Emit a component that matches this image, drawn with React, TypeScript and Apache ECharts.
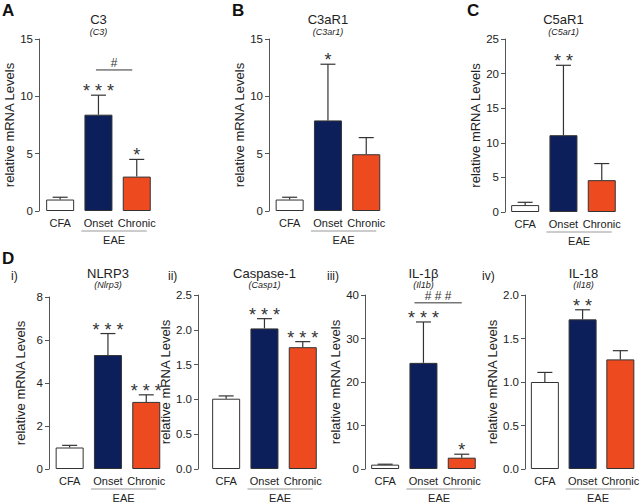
import React, { useEffect, useRef } from "react";
import * as echarts from "echarts";

// ---------- data ----------
const categories = ["CFA", "Onset", "Chronic"];
const groupLabel = "EAE";
const yAxisName = "relative mRNA Levels";

const c3Mean = [1.0, 8.4, 3.0];
const c3Upper = [1.2, 10.1, 4.5];
const c3Sig = ["", "***", "*"];
const c3Bracket = { y: 12.3, label: "#" };

const c3ar1Mean = [1.0, 7.9, 4.95];
const c3ar1Upper = [1.2, 12.8, 6.4];
const c3ar1Sig = ["", "*", ""];

const c5ar1Mean = [1.0, 11.1, 4.6];
const c5ar1Upper = [1.4, 21.2, 7.0];
const c5ar1Sig = ["", "**", ""];

const nlrp3Mean = [1.0, 5.3, 3.12];
const nlrp3Upper = [1.1, 6.3, 3.45];
const nlrp3Sig = ["", "***", "***"];

const casp1Mean = [1.01, 2.02, 1.75];
const casp1Upper = [1.05, 2.16, 1.83];
const casp1Sig = ["", "***", "***"];

const il1bMean = [1.0, 24.4, 2.6];
const il1bUpper = [1.1, 33.8, 3.4];
const il1bSig = ["", "***", "*"];
const il1bBracket = { y: 38.2, label: "###" };

const il18Mean = [1.0, 1.72, 1.26];
const il18Upper = [1.11, 1.83, 1.36];
const il18Sig = ["", "**", ""];

const panelTitles = ["C3", "C3aR1", "C5aR1", "NLRP3", "Caspase-1", "IL-1β", "IL-18"];
const panelGenes = ["(C3)", "(C3ar1)", "(C5ar1)", "(Nlrp3)", "(Casp1)", "(Il1b)", "(Il18)"];
const panelTags = ["A", "B", "C", "i)", "ii)", "iii)", "iv)"];
const yMax = [15, 15, 25, 8, 2.5, 40, 2.0];
const yInterval = [5, 5, 5, 2, 0.5, 10, 0.5];
const yDecimals = [0, 0, 0, 0, 1, 0, 1];

const panels = [
  { mean: c3Mean, upper: c3Upper, sig: c3Sig, bracket: c3Bracket },
  { mean: c3ar1Mean, upper: c3ar1Upper, sig: c3ar1Sig, bracket: null },
  { mean: c5ar1Mean, upper: c5ar1Upper, sig: c5ar1Sig, bracket: null },
  { mean: nlrp3Mean, upper: nlrp3Upper, sig: nlrp3Sig, bracket: null },
  { mean: casp1Mean, upper: casp1Upper, sig: casp1Sig, bracket: null },
  { mean: il1bMean, upper: il1bUpper, sig: il1bSig, bracket: il1bBracket },
  { mean: il18Mean, upper: il18Upper, sig: il18Sig, bracket: null },
];

// ---------- layout / style ----------
const FONT = "Liberation Sans, Arial, Helvetica, sans-serif";
const BAND = 38.3;
const BAR_W = 28;
const CAP_W = 15;
const barColors = ["#ffffff", "#0c1f5b", "#ee4a20"];
const layouts = [
  { left: 41, top: 39, height: 172, offset: 2, nameGap: 20, tagX: 0, tagY: 0, titleY: 19, geneY: 32, bx1: -2.5, bx2: -4.5 },
  { left: 270.5, top: 39, height: 172, offset: 1.5, nameGap: 21.5, tagX: 0, tagY: 0, titleY: 19, geneY: 32, bx1: 0, bx2: 0 },
  { left: 506, top: 39, height: 173, offset: 1, nameGap: 23.5, tagX: 0, tagY: 0, titleY: 19, geneY: 32, bx1: 0, bx2: 0 },
  { left: 50.5, top: 297, height: 172, offset: 1.5, nameGap: 22.5, tagX: 11, tagY: 276, titleY: 273, geneY: 285, bx1: 0, bx2: 0 },
  { left: 207, top: 295, height: 174, offset: 9, nameGap: 18.5, tagX: 168, tagY: 276, titleY: 273, geneY: 285, bx1: 0, bx2: 0 },
  { left: 366, top: 295, height: 174, offset: 1, nameGap: 20.5, tagX: 327, tagY: 276, titleY: 273, geneY: 285, bx1: -9, bx2: 0 },
  { left: 526, top: 295, height: 174, offset: 1, nameGap: 21.5, tagX: 482, tagY: 276, titleY: 273, geneY: 285, bx1: 0, bx2: 0 },
];
const letters = [
  { text: "A", x: 2, y: 2 },
  { text: "B", x: 232, y: 2 },
  { text: "C", x: 467, y: 2 },
  { text: "D", x: 2, y: 250 },
];

const spaced = (s: string) => s.split("").join(" ");

function buildOption() {
  const grid: any[] = [];
  const xAxis: any[] = [];
  const yAxis: any[] = [];
  const series: any[] = [];
  const graphic: any[] = [];

  panels.forEach((p, i) => {
    const L = layouts[i];
    grid.push({ left: L.left, top: L.top, width: BAND * 3, height: L.height });
    xAxis.push({
      type: "category",
      gridIndex: i,
      data: categories,
      axisLine: { show: false },
      axisTick: { show: false },
      axisLabel: { interval: 0, margin: 6, fontSize: 11, color: "#222", fontFamily: FONT },
    });
    const dec = yDecimals[i];
    yAxis.push({
      type: "value",
      gridIndex: i,
      min: 0,
      max: yMax[i],
      interval: yInterval[i],
      offset: L.offset,
      name: yAxisName,
      nameLocation: "middle",
      nameGap: L.nameGap,
      nameTextStyle: { fontSize: 13, color: "#222", fontFamily: FONT },
      axisLine: { show: true, lineStyle: { color: "#555", width: 1 } },
      axisTick: { show: true, length: 4, lineStyle: { color: "#555" } },
      splitLine: { show: false },
      axisLabel: {
        fontSize: 11.5,
        color: "#222",
        margin: 6,
        fontFamily: FONT,
        formatter: (v: number) => v.toFixed(dec),
      },
    });
    series.push({
      type: "bar",
      xAxisIndex: i,
      yAxisIndex: i,
      barWidth: BAR_W,
      data: p.mean.map((v, k) => ({
        value: v,
        itemStyle: { color: barColors[k], borderColor: "#333", borderWidth: 1 },
      })),
    });
    const sig = p.sig;
    series.push({
      type: "custom",
      xAxisIndex: i,
      yAxisIndex: i,
      data: p.mean.map((v, k) => [k, v, p.upper[k]]),
      renderItem: (params: any, api: any) => {
        const ci = api.value(0);
        const base = api.coord([ci, api.value(1)]);
        const top = api.coord([ci, api.value(2)]);
        const x = base[0];
        const children: any[] = [
          { type: "line", shape: { x1: x, y1: base[1], x2: x, y2: top[1] }, style: { stroke: "#333", lineWidth: 1.2 } },
          { type: "line", shape: { x1: x - CAP_W / 2, y1: top[1], x2: x + CAP_W / 2, y2: top[1] }, style: { stroke: "#333", lineWidth: 1.2 } },
        ];
        const s = sig[params.dataIndex];
        if (s) {
          children.push({
            type: "text",
            x: x,
            y: top[1] + 5,
            style: {
              text: spaced(s),
              align: "center",
              verticalAlign: "bottom",
              textAlign: "center",
              textVerticalAlign: "bottom",
              fontSize: 18,
              fontFamily: FONT,
              fill: "#333",
            },
          });
        }
        return { type: "group", children };
      },
      z: 3,
    });
    const br = p.bracket;
    series.push({
      type: "custom",
      xAxisIndex: i,
      yAxisIndex: i,
      data: [[1, 2, br ? br.y : 0]],
      renderItem: (params: any, api: any) => {
        const on = api.coord([1, 0]);
        const ch = api.coord([2, 0]);
        const y0 = on[1];
        const x1 = on[0] - 17;
        const x2 = ch[0] + 10;
        const children: any[] = [
          { type: "line", shape: { x1, y1: y0 + 20, x2, y2: y0 + 20 }, style: { stroke: "#999", lineWidth: 1 } },
          {
            type: "text",
            x: (x1 + x2) / 2,
            y: y0 + 29,
            style: {
              text: groupLabel,
              align: "center",
              verticalAlign: "middle",
              textAlign: "center",
              textVerticalAlign: "middle",
              fontSize: 11,
              fontFamily: FONT,
              fill: "#222",
            },
          },
        ];
        if (br) {
          const by = api.coord([1, api.value(2)])[1];
          const bx1 = on[0] + L.bx1;
          const bx2 = ch[0] + L.bx2;
          children.push({ type: "line", shape: { x1: bx1, y1: by, x2: bx2, y2: by }, style: { stroke: "#333", lineWidth: 1 } });
          children.push({
            type: "text",
            x: (bx1 + bx2) / 2,
            y: by - 1,
            style: {
              text: spaced(br.label),
              align: "center",
              verticalAlign: "bottom",
              textAlign: "center",
              textVerticalAlign: "bottom",
              fontSize: 12,
              fontFamily: FONT,
              fill: "#333",
            },
          });
        }
        return { type: "group", children };
      },
      z: 3,
    });

    const cx = L.left + BAND * 1.5;
    graphic.push({
      type: "text",
      x: cx,
      y: L.titleY,
      style: { text: panelTitles[i], textAlign: "center", textVerticalAlign: "middle", align: "center", verticalAlign: "middle", fontSize: 13, fontFamily: FONT, fill: "#222" },
    });
    graphic.push({
      type: "text",
      x: cx,
      y: L.geneY,
      style: { text: panelGenes[i], textAlign: "center", textVerticalAlign: "middle", align: "center", verticalAlign: "middle", fontSize: 9, fontStyle: "italic", fontFamily: FONT, fill: "#222" },
    });
    if (i >= 3) {
      graphic.push({
        type: "text",
        x: L.tagX,
        y: L.tagY,
        style: { text: panelTags[i], textAlign: "left", textVerticalAlign: "middle", align: "left", verticalAlign: "middle", fontSize: 12, fontFamily: FONT, fill: "#222" },
      });
    }
  });

  letters.forEach((l) => {
    graphic.push({
      type: "text",
      x: l.x,
      y: l.y,
      style: { text: l.text, textAlign: "left", textVerticalAlign: "top", align: "left", verticalAlign: "top", fontSize: 17, fontWeight: "bold", fontFamily: FONT, fill: "#111" },
    });
  });

  return {
    animation: false,
    backgroundColor: "#ffffff",
    grid,
    xAxis,
    yAxis,
    series,
    graphic,
  };
}

export default function App() {
  const ref = useRef<HTMLDivElement>(null);
  useEffect(() => {
    if (!ref.current) return;
    const chart = echarts.init(ref.current, undefined, { renderer: "svg" });
    chart.setOption(buildOption() as any);
    return () => chart.dispose();
  }, []);
  return (
    <div
      ref={ref}
      style={{ position: "fixed", left: 0, top: 0, width: 642, height: 504, background: "#fff" }}
    />
  );
}
